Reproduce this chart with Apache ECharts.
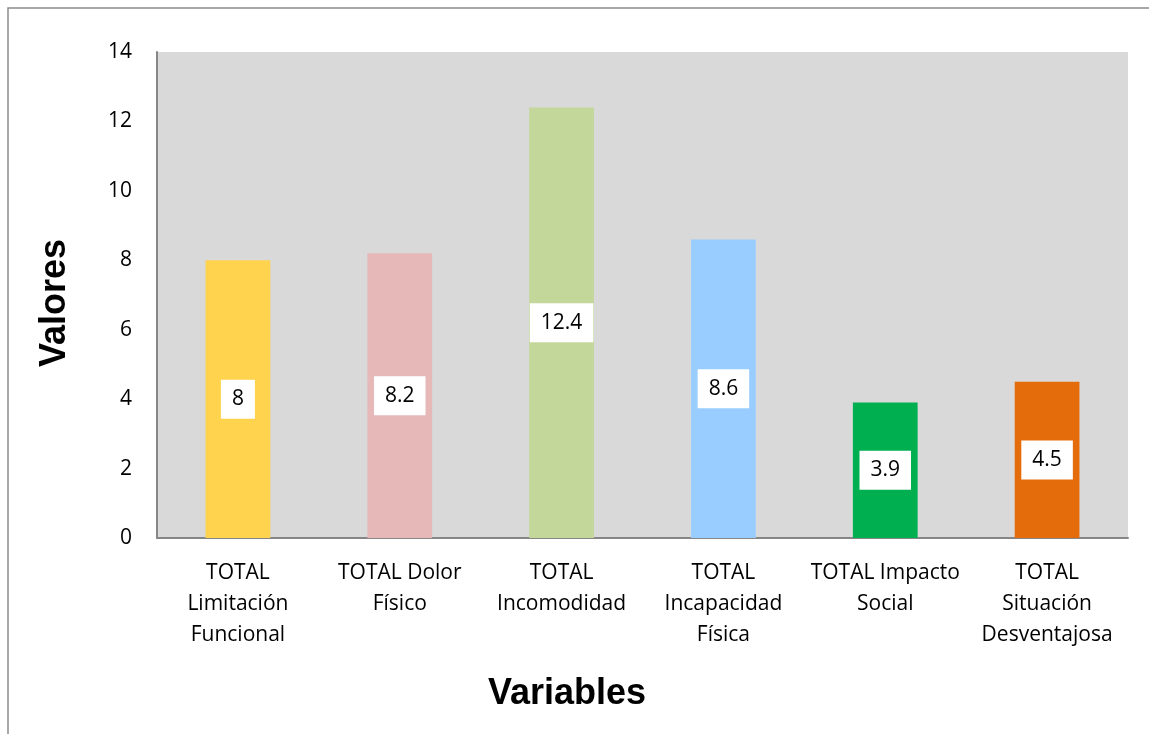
<!DOCTYPE html>
<html>
<head>
<meta charset="utf-8">
<script src="https://cdn.jsdelivr.net/npm/echarts@6/dist/echarts.min.js"></script>
<style>
  html, body { margin: 0; padding: 0; background: #ffffff; }
  #chart { width: 1149px; height: 734px; }
</style>
</head>
<body>
<div id="chart"></div>
<script>
// Categories (line breaks as they wrap under the axis)
const categories = [
  'TOTAL\nLimitación\nFuncional',
  'TOTAL Dolor\nFísico',
  'TOTAL\nIncomodidad',
  'TOTAL\nIncapacidad\nFísica',
  'TOTAL Impacto\nSocial',
  'TOTAL\nSituación\nDesventajosa'
];
const values = [8, 8.2, 12.4, 8.6, 3.9, 4.5];
const barColors = ['#FFD34D', '#E6B8B7', '#C4D79B', '#99CCFF', '#00B050', '#E46C0A'];
const yTicks = { min: 0, max: 14, interval: 2 };

const chart = echarts.init(document.getElementById('chart'), null, { renderer: 'canvas' });

const font = '"Open Sans", "Noto Sans", sans-serif';

chart.setOption({
  animation: false,
  backgroundColor: '#ffffff',
  grid: {
    left: 157, top: 52, right: 21, bottom: 196,
    show: true, backgroundColor: '#D9D9D9', borderWidth: 0
  },
  xAxis: {
    type: 'category',
    data: categories,
    axisLine: { show: true, lineStyle: { color: '#868686', width: 2 } },
    axisTick: { show: false },
    axisLabel: {
      color: '#000', fontFamily: font, fontSize: 21, lineHeight: 31,
      margin: 20, interval: 0
    },
    splitLine: { show: false }
  },
  yAxis: {
    type: 'value',
    min: yTicks.min, max: yTicks.max, interval: yTicks.interval,
    axisLine: { show: true, lineStyle: { color: '#868686', width: 2 } },
    axisTick: { show: false },
    axisLabel: { color: '#000', fontFamily: font, fontSize: 21, margin: 25 },
    splitLine: { show: false }
  },
  series: [{
    type: 'bar',
    data: values.map((v, i) => ({ value: v, itemStyle: { color: barColors[i] } })),
    barWidth: '40%',
    label: {
      show: true,
      position: 'inside',
      color: '#000',
      fontFamily: font,
      fontSize: 21,
      backgroundColor: '#ffffff',
      padding: [9, 11, 9, 11]
    }
  }],
  graphic: [
    {
      type: 'rect',
      silent: true,
      shape: { x: 8, y: 8, width: 1200, height: 800 },
      style: { fill: 'none', stroke: '#8c8c8c', lineWidth: 1.5 },
      z: -1
    },
    {
      type: 'text',
      x: 55, y: 303,
      rotation: Math.PI / 2,
      style: {
        text: 'Valores',
        font: 'bold 36px "Liberation Sans", Arial, sans-serif',
        fill: '#000',
        textAlign: 'center',
        textVerticalAlign: 'middle'
      }
    },
    {
      type: 'text',
      x: 567, y: 694,
      style: {
        text: 'Variables',
        font: 'bold 36px "Liberation Sans", Arial, sans-serif',
        fill: '#000',
        textAlign: 'center',
        textVerticalAlign: 'middle'
      }
    }
  ]
});
</script>
</body>
</html>
